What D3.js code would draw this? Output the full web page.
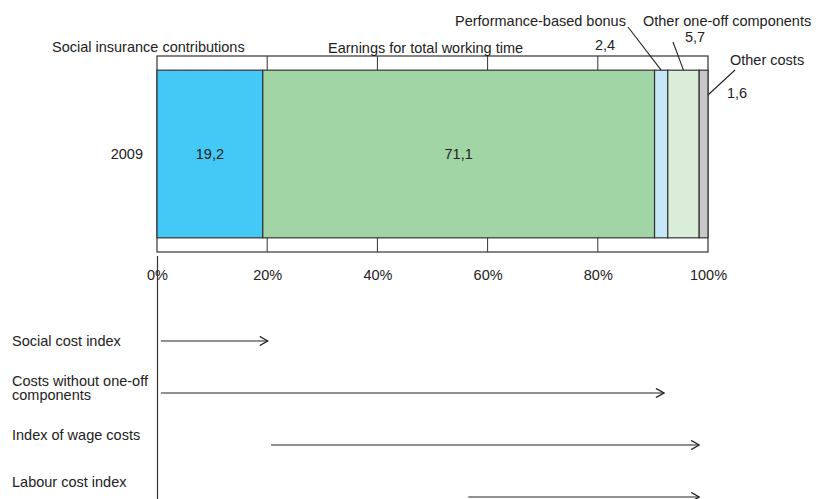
<!DOCTYPE html>
<html>
<head>
<meta charset="utf-8">
<script src="https://cdn.jsdelivr.net/npm/d3@7"></script>
<style>
  body { margin: 0; background: #fff; }
  text { font-family: "Liberation Sans", Arial, sans-serif; font-size: 14.5px; fill: #222; }
</style>
</head>
<body>
<script>
// data
const years = ["2009"]
const components = ["Social insurance contributions", "Earnings for total working time", "Performance-based bonus", "Other one-off components", "Other costs"]
const shares = [19.2, 71.1, 2.4, 5.7, 1.6]
const shareLabels = ["19,2", "71,1", "2,4", "5,7", "1,6"]
const tickValues = [0, 20, 40, 60, 80, 100]

const indexNames = ["Social cost index", "Costs without one-off\ncomponents", "Index of wage costs", "Labour cost index"]
const indexFrom = [0.7, 0.7, 20.7, 56.5]
const indexTo = [20.1, 92.0, 98.4, 98.4]

const colors = ["#44c8f5", "#a1d5a5", "#c6e7f8", "#d9edd9", "#c8c8c8"]

const svgWidth = 817
const svgHeight = 499

const svg = d3.select("body").append("svg")
  .attr("width", svgWidth)
  .attr("height", svgHeight)

const x = d3.scaleLinear().domain([0, 100]).range([157, 708])
const y = d3.scaleBand().domain(years).range([56, 252]).padding(0.078)

// stacked segments
let acc = 0
const segs = shares.map((v, i) => {
  const s = { name: components[i], label: shareLabels[i], x0: acc, x1: acc + v, color: colors[i] }
  acc += v
  return s
})

// gridlines in the frame
svg.append("g").selectAll("line")
  .data(tickValues.slice(1, -1))
  .enter().append("line")
  .attr("x1", d => x(d)).attr("x2", d => x(d))
  .attr("y1", 56).attr("y2", 252)
  .attr("stroke", "#333").attr("stroke-width", 1)

svg.append("rect")
  .attr("x", x(0)).attr("y", 56)
  .attr("width", x(100) - x(0)).attr("height", 196)
  .attr("fill", "none").attr("stroke", "#333").attr("stroke-width", 1.2)

svg.append("g").selectAll("rect")
  .data(segs)
  .enter().append("rect")
  .attr("x", d => x(d.x0))
  .attr("y", y("2009"))
  .attr("width", d => x(d.x1) - x(d.x0))
  .attr("height", y.bandwidth())
  .attr("fill", d => d.color)
  .attr("stroke", "#333").attr("stroke-width", 1.2)

// values inside the two big segments
svg.append("g").selectAll("text")
  .data(segs.slice(0, 2))
  .enter().append("text")
  .attr("x", d => x((d.x0 + d.x1) / 2))
  .attr("y", y("2009") + y.bandwidth() / 2)
  .attr("dy", "0.35em")
  .attr("text-anchor", "middle")
  .text(d => d.label)

// category label
svg.append("text")
  .attr("x", 143).attr("y", y("2009") + y.bandwidth() / 2)
  .attr("dy", "0.35em").attr("text-anchor", "end")
  .text(years[0])

// x axis
const xAxis = d3.axisBottom(x)
  .tickValues(tickValues)
  .tickFormat(d => d + "%")
  .tickSize(0)
  .tickPadding(18)

const axisG = svg.append("g")
  .attr("transform", "translate(0, 252)")
  .call(xAxis)
axisG.select(".domain").remove()
axisG.selectAll("text").attr("font-size", null).attr("font-family", null)

// component labels above the bar
const barTop = y("2009")
const ann = [
  { text: components[0], x: 52, y: 47, anchor: "start" },
  { text: components[1], x: 328, y: 48, anchor: "start" },
  { text: components[2], x: 455, y: 21, anchor: "start", val: shareLabels[2], vx: 605, vy: 45, lx: 628, ly: 27, seg: 2 },
  { text: components[3], x: 643, y: 21, anchor: "start", val: shareLabels[3], vx: 695, vy: 37, lx: 673, ly: 42, seg: 3 },
  { text: components[4], x: 730, y: 60, anchor: "start", val: shareLabels[4], vx: 737, vy: 93, lx: 735, ly: 70, seg: 4 }
]

const annG = svg.append("g")
annG.selectAll("text.name")
  .data(ann)
  .enter().append("text")
  .attr("class", "name")
  .attr("x", d => d.x).attr("y", d => d.y)
  .attr("dy", "0.35em")
  .attr("text-anchor", d => d.anchor)
  .text(d => d.text)

annG.selectAll("text.val")
  .data(ann.filter(d => d.val))
  .enter().append("text")
  .attr("class", "val")
  .attr("x", d => d.vx).attr("y", d => d.vy)
  .attr("dy", "0.35em")
  .attr("text-anchor", "middle")
  .text(d => d.val)

annG.selectAll("line")
  .data(ann.filter(d => d.val))
  .enter().append("line")
  .attr("x1", d => d.lx).attr("y1", d => d.ly)
  .attr("x2", d => d.seg === 4 ? x(100) : x((segs[d.seg].x0 + segs[d.seg].x1) / 2))
  .attr("y2", d => d.seg === 4 ? 95 : barTop)
  .attr("stroke", "#222").attr("stroke-width", 1.1)

// lower panel: index arrows
svg.append("line")
  .attr("x1", x(0) + 0.5).attr("x2", x(0) + 0.5)
  .attr("y1", 256).attr("y2", svgHeight)
  .attr("stroke", "#333").attr("stroke-width", 1.2)

const rowLabel = d3.scalePoint().domain(indexNames).range([341, 482])
const rowArrow = d3.scalePoint().domain(indexNames).range([341, 497])

svg.append("defs").append("marker")
  .attr("id", "head")
  .attr("viewBox", "0 0 10 10")
  .attr("refX", 9).attr("refY", 5)
  .attr("markerWidth", 10).attr("markerHeight", 10)
  .attr("markerUnits", "userSpaceOnUse")
  .attr("orient", "auto")
  .append("path")
  .attr("d", "M1,0.5 L9,5 L1,9.5")
  .attr("fill", "none").attr("stroke", "#222").attr("stroke-width", 1.4)

const rows = indexNames.map((n, i) => ({ name: n, from: indexFrom[i], to: indexTo[i] }))

svg.append("g").selectAll("line")
  .data(rows)
  .enter().append("line")
  .attr("x1", d => x(d.from)).attr("x2", d => x(d.to))
  .attr("y1", d => rowArrow(d.name)).attr("y2", d => rowArrow(d.name))
  .attr("stroke", "#222").attr("stroke-width", 1.2)
  .attr("marker-end", "url(#head)")

const lbl = svg.append("g").selectAll("text")
  .data(rows)
  .enter().append("text")
  .attr("x", 12)
  .attr("y", d => rowLabel(d.name))

lbl.each(function (d) {
  const lines = d.name.split("\n")
  const t = d3.select(this)
  lines.forEach((l, i) => {
    t.append("tspan")
      .attr("x", 12)
      .attr("dy", i === 0 ? (0.35 - (lines.length - 1) * 0.5) + "em" : "1.0em")
      .text(l)
  })
})
</script>
</body>
</html>
